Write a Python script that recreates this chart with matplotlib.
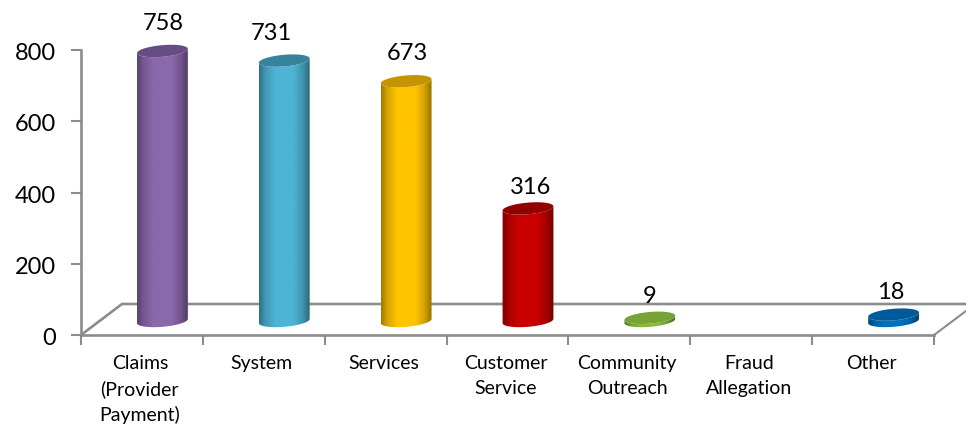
import numpy as np
import matplotlib
matplotlib.use("Agg")
import matplotlib.pyplot as plt
from matplotlib.colors import to_rgb
from matplotlib.patches import PathPatch
from matplotlib.path import Path
from matplotlib.transforms import ScaledTranslation

categories = ["Claims\n(Provider\nPayment)", "System", "Services", "Customer\nService",
              "Community\nOutreach", "Fraud\nAllegation", "Other"]
values = [758, 731, 673, 316, 9, 0, 18]
colors = ["#8A68AC", "#4DB4D4", "#FFC400", "#C90000", "#86B83E", "#4F81BD", "#0070C0"]
cap_colors = ["#664E82", "#37839B", "#C49500", "#930000", "#76A336", "#3A6491", "#005A9C"]
label_dx = [1, -13, 1, 3, 0, 0, -3]
label_dy = [27, 27, 28, 21, 21, 21, 22]
yticks = [0, 200, 400, 600, 800]

W, H = 966, 430
AX_L, AX_R, AX_B, AX_T = 81, 934, 335, 50
plt.rcParams["font.family"] = ["Lato", "DejaVu Sans"]
fig = plt.figure(figsize=(W / 100, H / 100), dpi=100)
ax = fig.add_axes([AX_L / W, 1 - AX_B / H, (AX_R - AX_L) / W, (AX_B - AX_T) / H])
ax.set_xlim(0, len(categories))
ax.set_ylim(0, 800)
sx = (AX_R - AX_L) / len(categories)   # px per category
sy = (AX_B - AX_T) / 800               # px per value unit
GREY = "#8C8C8C"

for s in ["top", "right"]:
    ax.spines[s].set_visible(False)
for s in ["left", "bottom"]:
    ax.spines[s].set_color(GREY)
    ax.spines[s].set_linewidth(1.9)
ax.set_yticks(yticks)
ax.set_xticks(np.arange(len(categories) + 1))
ax.set_xticklabels([])
ax.tick_params(axis="y", colors=GREY, length=7, width=1.5, labelsize=17, labelcolor="black", pad=11)
ax.tick_params(axis="x", colors=GREY, length=7, width=1.5)
for lab in ax.get_yticklabels():
    lab.set_transform(lab.get_transform() + ScaledTranslation(0, -1.5 / 100, fig.dpi_scale_trans))

for i, c in enumerate(categories):
    ax.annotate(c, (i + 0.5, 0), xytext=(-1.5, -14.5), textcoords="offset points",
                ha="center", va="top", fontsize=14, linespacing=1.53, annotation_clip=False)

# floor of the 3D plot
depth_x, depth_y = 41 / sx, 31 / sy
floor_x = [0, depth_x, 7 + 32 / sx]
floor_y = [0, depth_y, depth_y]
ax.plot(floor_x, floor_y, color=GREY, lw=1.9, clip_on=False, zorder=1, solid_joinstyle="miter")
ax.plot([7, 7 + 32 / sx], [0, 24 / sy], color=GREY, lw=1.5, clip_on=False, zorder=1)

# cylinders
A, B, TILT = 25.5, 5.8, np.deg2rad(5)
BASE = 14 / sy
SHIFT = 20.5 / sx


def ellipse(cx, cy, t):
    px = A * np.cos(t) * np.cos(TILT) - B * np.sin(t) * np.sin(TILT)
    py = A * np.cos(t) * np.sin(TILT) + B * np.sin(t) * np.cos(TILT)
    return cx + px / sx, cy + py / sy


def shade_image(color):
    base = np.array(to_rgb(color))
    u = np.linspace(0, 1, 120)
    f = np.interp(u, [0, 0.12, 0.32, 0.68, 0.86, 1], [0.62, 0.84, 1, 1, 0.82, 0.58])
    return (base[None, None, :] * f[None, :, None]).clip(0, 1)


for i, (v, col, cap) in enumerate(zip(values, colors, cap_colors)):
    if v <= 0:
        continue
    cx, bot, top = i + 0.5 + SHIFT, BASE, BASE + v
    t_low = np.linspace(np.pi, 2 * np.pi, 50)
    bx, by = ellipse(cx, bot, t_low)
    tx, ty = ellipse(cx, top, t_low[::-1])
    verts = np.r_[np.c_[bx, by], np.c_[tx, ty], [[bx[0], by[0]]]]
    body = Path(verts, closed=False)
    half = A / sx
    im = ax.imshow(shade_image(col), extent=[cx - half, cx + half, 0, top + 12 / sy],
                   aspect="auto", origin="lower", zorder=2, interpolation="bilinear")
    im.set_clip_path(PathPatch(body, transform=ax.transData))
    cxs, cys = ellipse(cx, top, np.linspace(0, 2 * np.pi, 100))
    ax.fill(cxs, cys, color=cap, lw=0, zorder=3, clip_on=False)
    ax.annotate(str(v), (cx, top), xytext=(label_dx[i] * 0.72, label_dy[i] * 0.72),
                textcoords="offset points", ha="center", va="center",
                fontsize=17, zorder=4, annotation_clip=False)

ax.set_xlim(0, len(categories))
ax.set_ylim(0, 800)
fig.savefig("out.png", dpi=100)
